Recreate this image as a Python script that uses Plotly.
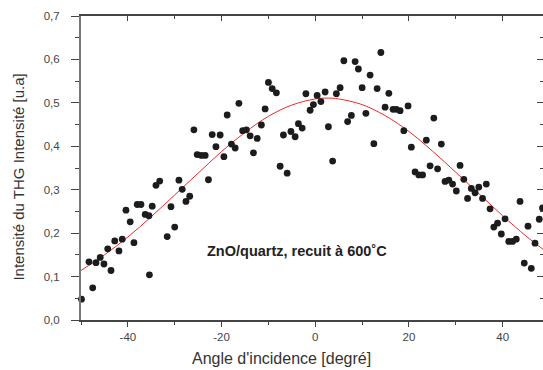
import plotly.graph_objects as go

# Measured data points (angle in degrees, THG intensity in a.u.)
angle = [-50.3, -49.9, -48.3, -47.5, -46.8, -45.9, -45.1, -44.3, -43.6, -42.8,
         -41.9, -41.2, -40.4, -39.5, -38.7, -38.0, -37.2, -36.3, -35.5, -35.4,
         -34.8, -34.0, -33.2, -31.6, -30.8, -30.0, -29.1, -28.4, -27.6, -26.8,
         -25.9, -25.2, -24.3, -23.5, -22.8, -22.0, -21.2, -20.3, -19.5, -18.8,
         -17.9, -17.1, -16.3, -15.5, -14.7, -13.9, -13.2, -12.4, -11.5, -10.7,
         -10.0, -9.2, -8.3, -7.5, -6.8, -6.0, -5.2, -4.3, -3.6, -2.8,
         -2.0, -1.1, -0.4, 0.4, 1.2, 2.1, 2.8, 3.7, 4.5, 5.3,
         6.1, 6.9, 7.7, 8.5, 9.2, 10.0, 10.8, 11.7, 12.5, 13.2,
         14.0, 14.9, 15.7, 16.6, 17.3, 18.1, 18.9, 19.8, 20.5, 21.3,
         22.1, 22.9, 23.7, 24.5, 25.3, 26.1, 26.9, 27.7, 28.5, 29.3,
         30.1, 30.9, 31.7, 32.5, 33.3, 34.1, 34.9, 35.7, 36.5, 37.3,
         38.1, 38.9, 39.7, 40.5, 41.3, 42.1, 42.9, 43.7, 44.6, 45.4,
         46.1, 46.9, 47.8, 48.5]
intensity = [0.101, 0.048, 0.134, 0.074, 0.132, 0.144, 0.129, 0.164, 0.114, 0.182,
             0.159, 0.186, 0.253, 0.226, 0.178, 0.266, 0.266, 0.243, 0.240, 0.104,
             0.262, 0.310, 0.320, 0.192, 0.261, 0.214, 0.322, 0.301, 0.273, 0.285,
             0.438, 0.381, 0.379, 0.379, 0.323, 0.427, 0.399, 0.426, 0.376, 0.472,
             0.405, 0.396, 0.499, 0.436, 0.438, 0.424, 0.385, 0.418, 0.449, 0.486,
             0.547, 0.533, 0.523, 0.354, 0.426, 0.338, 0.434, 0.422, 0.452, 0.442,
             0.521, 0.483, 0.496, 0.517, 0.503, 0.525, 0.445, 0.366, 0.521, 0.535,
             0.597, 0.457, 0.471, 0.595, 0.578, 0.535, 0.476, 0.564, 0.406, 0.533,
             0.616, 0.490, 0.522, 0.485, 0.485, 0.482, 0.436, 0.493, 0.398, 0.341,
             0.334, 0.334, 0.414, 0.355, 0.465, 0.348, 0.405, 0.319, 0.322, 0.313,
             0.297, 0.356, 0.324, 0.280, 0.303, 0.293, 0.306, 0.280, 0.313, 0.256,
             0.214, 0.223, 0.198, 0.233, 0.181, 0.181, 0.186, 0.273, 0.131, 0.216,
             0.119, 0.177, 0.232, 0.258]

# Fit curve
fit_angle = [-50, -45, -40, -35, -30, -25, -20, -15, -10, -5, 0, 2.5, 5,
             10, 15, 20, 25, 30, 35, 40, 45, 48.6]
fit_value = [0.114, 0.150, 0.191, 0.238, 0.288, 0.338, 0.388, 0.432, 0.469, 0.495,
             0.509, 0.511, 0.509, 0.496, 0.470, 0.434, 0.389, 0.340, 0.290, 0.240,
             0.193, 0.163]

x_ticks = [-40, -20, 0, 20, 40]
x_tick_labels = ["-40", "-20", "0", "20", "40"]
x_minor = [-50, -30, -10, 10, 30]

annotation_text = "ZnO/quartz, recuit à 600˚C"
x_title = "Angle d'incidence [degré]"
y_title = "Intensité du THG Intensité [u.a]"

X_RANGE = [-50, 48.6]
Y_RANGE = [0, 0.7]
FONT = "Liberation Sans, Arial, sans-serif"
AX = "#444444"

fig = go.Figure()
fig.add_trace(go.Scatter(x=fit_angle, y=fit_value, mode="lines",
                         line=dict(color="#ee2a2a", width=1, shape="spline"),
                         hoverinfo="skip", showlegend=False))
fig.add_trace(go.Scatter(x=angle, y=intensity, mode="markers",
                         marker=dict(color="#1c1c1c", size=6.8),
                         cliponaxis=False, showlegend=False))
# empty trace to activate the mirror axes (top / right)
fig.add_trace(go.Scatter(x=[], y=[], xaxis="x2", yaxis="y2", showlegend=False))

fig.update_layout(
    width=543, height=370,
    margin=dict(l=81, r=0, t=16, b=50),
    paper_bgcolor="white", plot_bgcolor="white",
    separators=", ",
    font=dict(family=FONT, color="#333333"),
    xaxis=dict(range=X_RANGE, tickmode="array", tickvals=x_ticks, ticktext=x_tick_labels,
               ticks="outside", ticklen=5, tickwidth=1, tickcolor=AX,
               minor=dict(tickmode="array", tickvals=x_minor, ticks="outside",
                          ticklen=3, tickcolor=AX),
               showline=True, linecolor=AX, linewidth=1.5, showgrid=False,
               zeroline=False, tickfont=dict(size=11.5, color="#444444")),
    xaxis2=dict(range=X_RANGE, overlaying="x", side="top", anchor="y",
                tickmode="array", tickvals=x_ticks, showticklabels=False,
                ticks="inside", ticklen=5, tickcolor=AX,
                minor=dict(tickmode="array", tickvals=x_minor, ticks="inside",
                           ticklen=3, tickcolor=AX),
                showline=True, linecolor=AX, linewidth=1.5, showgrid=False,
                zeroline=False),
    yaxis=dict(range=Y_RANGE, tickmode="linear", tick0=0, dtick=0.1, tickformat=".1f",
               ticks="outside", ticklen=8, tickwidth=1, tickcolor=AX,
               ticklabelstandoff=9,
               minor=dict(tickmode="linear", tick0=0, dtick=0.05, ticks="outside",
                          ticklen=4, tickcolor=AX),
               showline=True, linecolor="#777777", linewidth=2, showgrid=False,
               zeroline=False, tickfont=dict(size=11.5, color="#444444")),
    yaxis2=dict(range=Y_RANGE, overlaying="y", side="right", anchor="x",
                tickmode="linear", tick0=0, dtick=0.1, showticklabels=False,
                ticks="inside", ticklen=6, tickcolor=AX,
                minor=dict(tickmode="linear", tick0=0, dtick=0.05, ticks="inside",
                           ticklen=3, tickcolor=AX),
                showline=False, showgrid=False, zeroline=False),
    annotations=[
        dict(text="<b>" + annotation_text + "</b>", x=0.4675, y=0.194,
             xref="paper", yref="paper", showarrow=False,
             font=dict(size=14.5, color="#222222", family=FONT)),
        dict(text=x_title, x=0.433, y=-0.128, xref="paper", yref="paper",
             showarrow=False, yanchor="middle",
             font=dict(size=16, color="#333333", family=FONT)),
        dict(text=y_title, x=-0.136, y=0.469, xref="paper", yref="paper",
             showarrow=False, textangle=-90, xanchor="center", yanchor="middle",
             font=dict(size=15, color="#333333", family=FONT)),
    ],
)

fig.write_html("out.html", config={"displayModeBar": False},
               post_script="document.body.style.margin='0';document.body.style.overflow='hidden';")
